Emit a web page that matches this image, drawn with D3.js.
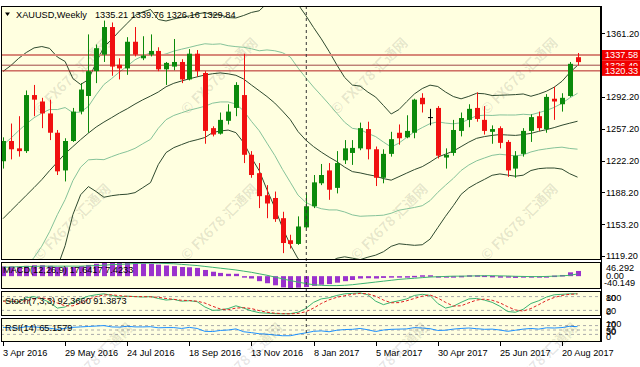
<!DOCTYPE html>
<html><head><meta charset="utf-8">
<script src="https://cdn.jsdelivr.net/npm/d3@7"></script>
<style>
body{margin:0;background:#fff;}
svg{display:block;font-family:"Liberation Sans",Arial,sans-serif;}
</style>
</head><body>
<svg id="c" width="640" height="367"></svg>
<script>
// ---------- DATA ----------
const firstWeek = "2016-04-03";
const open  = [1222,1244,1236,1233,1294,1287,1274,1253,1212,1244,1276,1293,1320,1338,1368,1327,1323,1352,1334,1338,1342,1322,1325,1330,1311,1339,1318,1258,1252,1266,1280,1294,1229,1209,1185,1182,1160,1136,1132,1150,1173,1198,1212,1193,1223,1231,1236,1257,1235,1204,1230,1253,1248,1253,1291,1270,1280,1226,1231,1255,1267,1280,1267,1254,1258,1243,1214,1230,1255,1271,1257,1290,1284,1293,1335.21];
const high  = [1248,1263,1271,1299,1305,1291,1289,1256,1247,1280,1307,1360,1349,1375,1373,1334,1357,1368,1358,1360,1346,1330,1355,1333,1344,1343,1320,1260,1275,1284,1308,1339,1233,1220,1196,1189,1167,1142,1162,1187,1207,1219,1220,1233,1245,1245,1264,1265,1238,1235,1254,1262,1272,1290,1296,1279,1282,1236,1267,1275,1284,1297,1282,1261,1260,1245,1233,1258,1273,1276,1295,1303,1296,1330,1339.76];
const low   = [1214,1224,1227,1231,1271,1258,1245,1207,1200,1243,1273,1253,1307,1330,1315,1311,1316,1336,1332,1336,1320,1305,1321,1307,1310,1314,1241,1249,1251,1262,1271,1220,1204,1171,1160,1156,1122,1127,1131,1149,1171,1196,1180,1187,1219,1218,1234,1224,1195,1198,1227,1240,1247,1247,1275,1261,1225,1214,1228,1249,1259,1265,1251,1241,1236,1205,1204,1227,1243,1255,1253,1267,1276,1292,1326.16];
const close = [1244,1235,1233,1294,1289,1274,1253,1211,1244,1276,1300,1320,1345,1368,1325,1323,1352,1338,1337,1342,1322,1329,1330,1311,1339,1320,1255,1251,1267,1276,1305,1229,1207,1184,1176,1159,1133,1132,1151,1173,1199,1207,1191,1220,1236,1236.5,1258,1235,1204,1230,1246,1247,1255,1289,1284,1270,1228,1229,1256,1269,1279,1268,1255,1257,1242,1212,1228,1255,1270,1258,1292,1287,1291,1328,1329.84];
// Bollinger band middle line and one standard deviation
const bbMid = [1159.5,1168,1176.4,1184.9,1193.3,1202,1211.8,1221,1230.3,1237.9,1245.5,1252.6,1259.2,1264.6,1269.5,1274.6,1279.1,1284.2,1288.8,1292.9,1297.3,1303,1306.8,1309.3,1311.7,1313.8,1315.8,1317.2,1318.1,1317.1,1315.5,1311.4,1304.9,1298.7,1292.4,1285.3,1276.6,1267.3,1254.3,1245,1237.9,1231.9,1226.5,1221.6,1215.6,1210.7,1209.3,1207.4,1205.8,1203.1,1201.4,1205.2,1209.1,1212.9,1216.1,1221,1226.5,1229.7,1233,1237.9,1242.8,1246.9,1248.8,1250.1,1251,1250.5,1250.1,1251,1252.3,1254.5,1256.4,1258.6,1261.2,1263.4,1265.5];
const bbDev = [80.1,79,78.7,77.7,76,72.4,66.5,57.2,50.1,37,30,29.1,35.1,40.9,42.5,44.5,46.5,48.2,47.8,47.1,39.5,35.8,35,34.6,34.2,34.2,34,32,31.6,30.6,31.2,34.6,39.5,43.5,50.7,56.9,63.5,68.1,69.2,67.8,64.8,61.6,57.5,52.6,48.8,47.1,47.2,44.9,43,39.8,36,36.5,38.9,41.2,42.5,41.9,38.4,33.8,29.7,26,24.9,24.5,23.3,21.7,21.4,21.8,22.2,22.1,20.2,20.3,20.9,22,23.9,27.5,30.4];
const macdMain = [33,33,32,35,37,37,35,31,30,31,34,38,42,46,46,45,46,45,43,42,39,36,34,31,30,28,21,15,11,8,8,0,-8,-17,-24,-31,-38,-40,-39,-37,-33,-29,-27,-22,-17,-13,-8,-7,-8,-6,-4,-3,-2,1,3,3,0,-2,-1,1,3,3,2,1,-1,-5,-6,-5,-3,-2,0,2,4,13,17.6417];
const macdSignal = [30,31,32,33,33,34,34,34,34,34,34,35,36,37,39,40,41,43,44,44,44,43,42,40,38,36,33,30,27,24,21,17,13,8,3,-3,-9,-15,-20,-25,-29,-31,-32,-32,-31,-29,-26,-23,-20,-17,-14,-11,-9,-7,-5,-3,-2,-1,0,0,0.5,1,1.5,1.5,1,0.5,-0.5,-1,-1.5,-1.5,-1,0,1,3,7.4233];
const stochK = [62,60,55,75,80,70,55,30,35,55,70,82,88,92,85,78,82,80,78,80,72,65,68,60,62,58,35,20,22,28,40,30,18,10,8,6,5,6,12,28,55,70,75,85,92,94,96,88,60,45,55,62,70,85,90,85,50,30,38,55,70,72,65,55,38,15,12,25,50,62,78,88,90,92,92.366];
const stochD = [60,61,58,62,70,75,68,52,40,40,52,68,80,87,88,84,81,80,80,79,77,72,68,64,63,60,52,38,26,23,30,32,28,19,12,8,6,5,7,14,30,50,66,77,84,90,94,92,82,65,53,54,62,72,82,87,74,55,39,40,53,65,69,64,53,36,22,17,28,45,63,76,85,90,91.3873];
const rsi = [62,60,59,65,64,61,58,53,58,62,64,66,68,70,64,63,67,64,64,65,60,61,61,57,62,57,44,43,48,50,55,42,38,33,31,27,24,24,31,37,44,46,42,49,52,53,57,51,43,50,53,54,55,61,59,56,48,49,54,57,59,56,53,54,50,44,49,54,57,54,60,59,61,67,65.1579];
const priceTicks = [1361.20,1326.20,1292.20,1257.20,1222.20,1188.20,1153.20,1119.20];
const dateTicks = ["2016-04-03","2016-05-29","2016-07-24","2016-09-18","2016-11-13","2017-01-08","2017-03-05","2017-04-30","2017-06-25","2017-08-20"];
const dateTickLabels = ["3 Apr 2016","29 May 2016","24 Jul 2016","18 Sep 2016","13 Nov 2016","8 Jan 2017","5 Mar 2017","30 Apr 2017","25 Jun 2017","20 Aug 2017"];
const levelPrices = [1326.49,1337.58,1320.33];
const levelLabels = ["1326.49","1337.58","1320.33"];
const titleText = "XAUUSD,Weekly";
const titleOHLC = "1335.21 1339.76 1326.16 1329.84";
const separatorDate = "2017-01-01";

// ---------- LAYOUT ----------
const L = 1, R = 601;
const P = {main:[6,260], macd:[262,289], stoch:[291,316], rsi:[318,342]};
const BG = "#ffffe0";
const svg = d3.select("#c");
const parse = d3.utcParse("%Y-%m-%d");
const start = parse(firstWeek);
const dates = close.map((_, i) => d3.utcWeek.offset(start, i));
const x = d3.scaleUtc().domain([parse("2016-04-03"), parse("2017-08-20")]).range([3, 562]);
const xi = i => Math.round(x(dates[i]));

const y = d3.scaleLinear().domain([1119.2, 1361.2]).range([255.7, 33.3]);
const yMacd = d3.scaleLinear().domain([-40.149, 46.292]).range([288, 262.5]);
const yStoch = d3.scaleLinear().domain([0, 100]).range([315, 292]);
const yRsi = d3.scaleLinear().domain([0, 100]).range([341, 319]);

// backgrounds
svg.append("rect").attr("width",640).attr("height",367).attr("fill","#fff");
Object.entries(P).forEach(([k,[t,b]]) => {
  svg.append("rect").attr("x",L).attr("y",t).attr("width",R-L).attr("height",b-t).attr("fill",BG);
  svg.append("clipPath").attr("id","clip-"+k).append("rect").attr("x",L).attr("y",t).attr("width",R-L).attr("height",b-t);
});
svg.append("clipPath").attr("id","clip-all").append("rect").attr("x",0).attr("y",0).attr("width",640).attr("height",367);

// watermarks
const wmText = "© FX678 汇通网";
const addWm = (g,cx,cy) => g.append("text").attr("transform",`translate(${cx},${cy}) rotate(-45)`)
    .attr("text-anchor","middle").attr("dominant-baseline","middle")
    .attr("font-family","'Noto Sans CJK SC','Liberation Sans',sans-serif").attr("font-weight","bold")
    .attr("font-size",14).attr("fill","#000").attr("fill-opacity",0.1).text(wmText);
const wm = svg.append("g").attr("clip-path","url(#clip-main)");
[[73,77],[220,77],[370,77],[520,77],[73,223],[220,223],[390,223],[520,223]].forEach(([cx,cy]) => addWm(wm,cx,cy));

// Bollinger bands
const main = svg.append("g").attr("clip-path","url(#clip-main)");
const bandLine = k => d3.line().x((d,i)=>x(dates[i])).y((d,i)=>y(bbMid[i]+k*bbDev[i]))(bbMid);
[[1,"#86c39a"],[-1,"#86c39a"],[2,"#2f4a2f"],[-2,"#2f4a2f"],[0,"#2f4a2f"]].forEach(([k,c]) => {
  main.append("path").attr("d",bandLine(k)).attr("fill","none").attr("stroke",c).attr("stroke-width",1);
});

// horizontal levels
const levelColors = ["#a04848","#d88878","#b42020"];
const levelWidths = [1,2,1];
levelPrices.forEach((p,i) => {
  main.append("line").attr("x1",L).attr("x2",R).attr("y1",y(p)).attr("y2",y(p))
    .attr("stroke",levelColors[i]).attr("stroke-width",levelWidths[i]);
});

// candles
const UP = "#0b8a0b", DN = "#f01010";
close.forEach((c,i) => {
  const o = open[i], cx = xi(i) + 0.5;
  const col = c > o ? UP : (c < o ? DN : "#000");
  main.append("line").attr("x1",cx).attr("x2",cx).attr("y1",y(high[i])).attr("y2",y(low[i]))
    .attr("stroke",col).attr("stroke-width",1);
  const top = Math.min(y(o),y(c)), h = Math.max(1, Math.abs(y(o)-y(c)));
  main.append("rect").attr("x",cx-2.5).attr("y",top).attr("width",5).attr("height",h).attr("fill",col);
});

// MACD
const gm = svg.append("g").attr("clip-path","url(#clip-macd)");
macdMain.forEach((v,i) => {
  const cx = xi(i)+0.5;
  const y0 = yMacd(0), y1 = yMacd(v);
  gm.append("rect").attr("x",cx-2.5).attr("width",5)
    .attr("y",Math.min(y0,y1)).attr("height",Math.max(1.5,Math.abs(y1-y0))).attr("fill","#9a32cd");
});
gm.append("path").attr("d",d3.line().x((d,i)=>x(dates[i])).y(d=>yMacd(d))(macdSignal))
  .attr("fill","none").attr("stroke","#3cb371").attr("stroke-width",1);

// Stoch
const gs = svg.append("g").attr("clip-path","url(#clip-stoch)");
[80,20].forEach(v => gs.append("line").attr("x1",L).attr("x2",R).attr("y1",yStoch(v)).attr("y2",yStoch(v))
  .attr("stroke","#aaa").attr("stroke-dasharray","3,3"));
gs.append("path").attr("d",d3.line().x((d,i)=>x(dates[i])).y(d=>yStoch(d))(stochK))
  .attr("fill","none").attr("stroke","#3cb371").attr("stroke-width",1);
gs.append("path").attr("d",d3.line().x((d,i)=>x(dates[i])).y(d=>yStoch(d))(stochD))
  .attr("fill","none").attr("stroke","#e02020").attr("stroke-width",1).attr("stroke-dasharray","3,2");

// RSI
const gr = svg.append("g").attr("clip-path","url(#clip-rsi)");
[70,50,30].forEach(v => gr.append("line").attr("x1",L).attr("x2",R).attr("y1",yRsi(v)).attr("y2",yRsi(v))
  .attr("stroke","#aaa").attr("stroke-dasharray","3,3"));
gr.append("path").attr("d",d3.line().x((d,i)=>x(dates[i])).y(d=>yRsi(d))(rsi))
  .attr("fill","none").attr("stroke","#1e90ff").attr("stroke-width",1);

// period separator
svg.append("line").attr("x1",x(parse(separatorDate))+0.5).attr("x2",x(parse(separatorDate))+0.5)
  .attr("y1",P.main[0]).attr("y2",P.rsi[1]).attr("stroke","#333").attr("stroke-dasharray","3,3");

// frames
Object.values(P).forEach(([t,b]) => {
  svg.append("rect").attr("x",L+0.5).attr("y",t+0.5).attr("width",R-L-1).attr("height",b-t-1)
    .attr("fill","none").attr("stroke","#000");
});

// labels
const T = (s,xx,yy,opt={}) => svg.append("text").attr("x",xx).attr("y",yy).attr("font-size",opt.fs||9.2)
  .attr("fill",opt.fill||"#000").attr("text-anchor",opt.anchor||"start").text(s);
svg.append("path").attr("d","M5,12.5 L10,12.5 L7.5,16 Z").attr("fill","#000");
T(titleText,16,18);
T(titleOHLC,95,18);
T("MACD(12,26,9) "+macdMain[74].toFixed(4)+" "+macdSignal[74].toFixed(4),3,273);
T("Stoch(7,3,3) "+stochK[74].toFixed(4)+" "+stochD[74].toFixed(4),5,303.5);
T("RSI(14) "+rsi[74].toFixed(4),5,330.5);

// price axis
const ax = svg.append("g");
priceTicks.forEach(p => {
  ax.append("line").attr("x1",R).attr("x2",R+4).attr("y1",Math.round(y(p))+0.5).attr("y2",Math.round(y(p))+0.5).attr("stroke","#000");
  T(p.toFixed(2),606,y(p)+3.3);
});
T("46.292",606,271); T("0.00",606,278.5); T("-40.149",604,285.5);
T("100",606,300.5); T("80",606,301); T("20",606,314); T("0",606,315);
T("100",606,327); T("70",606,328); T("50",606,333.5); T("30",606,335); T("0",606,339.5);

// level labels
levelPrices.forEach((p,i) => {
  const yy = y(p);
  svg.append("rect").attr("x",602).attr("y",yy-5).attr("width",38).attr("height",10).attr("fill","#f00000");
  T(levelLabels[i],605,yy+3.4,{fill:"#fff"});
});

// time axis
svg.append("line").attr("x1",R+0.5).attr("x2",R+0.5).attr("y1",P.main[0]).attr("y2",P.rsi[1]).attr("stroke","#000");
dateTicks.forEach((d,i) => {
  const xx = Math.round(x(parse(d)))+0.5;
  svg.append("line").attr("x1",xx).attr("x2",xx).attr("y1",P.rsi[1]).attr("y2",P.rsi[1]+4).attr("stroke","#000");
  T(dateTickLabels[i],xx-0.5,356);
});

// watermarks over the lower margin (partly outside the picture, as in the reference)
const wm2 = svg.append("g").attr("clip-path","url(#clip-all)");
[[95,362],[245,362],[390,362],[540,362]].forEach(([cx,cy]) => addWm(wm2,cx,cy));
</script>
</body></html>
